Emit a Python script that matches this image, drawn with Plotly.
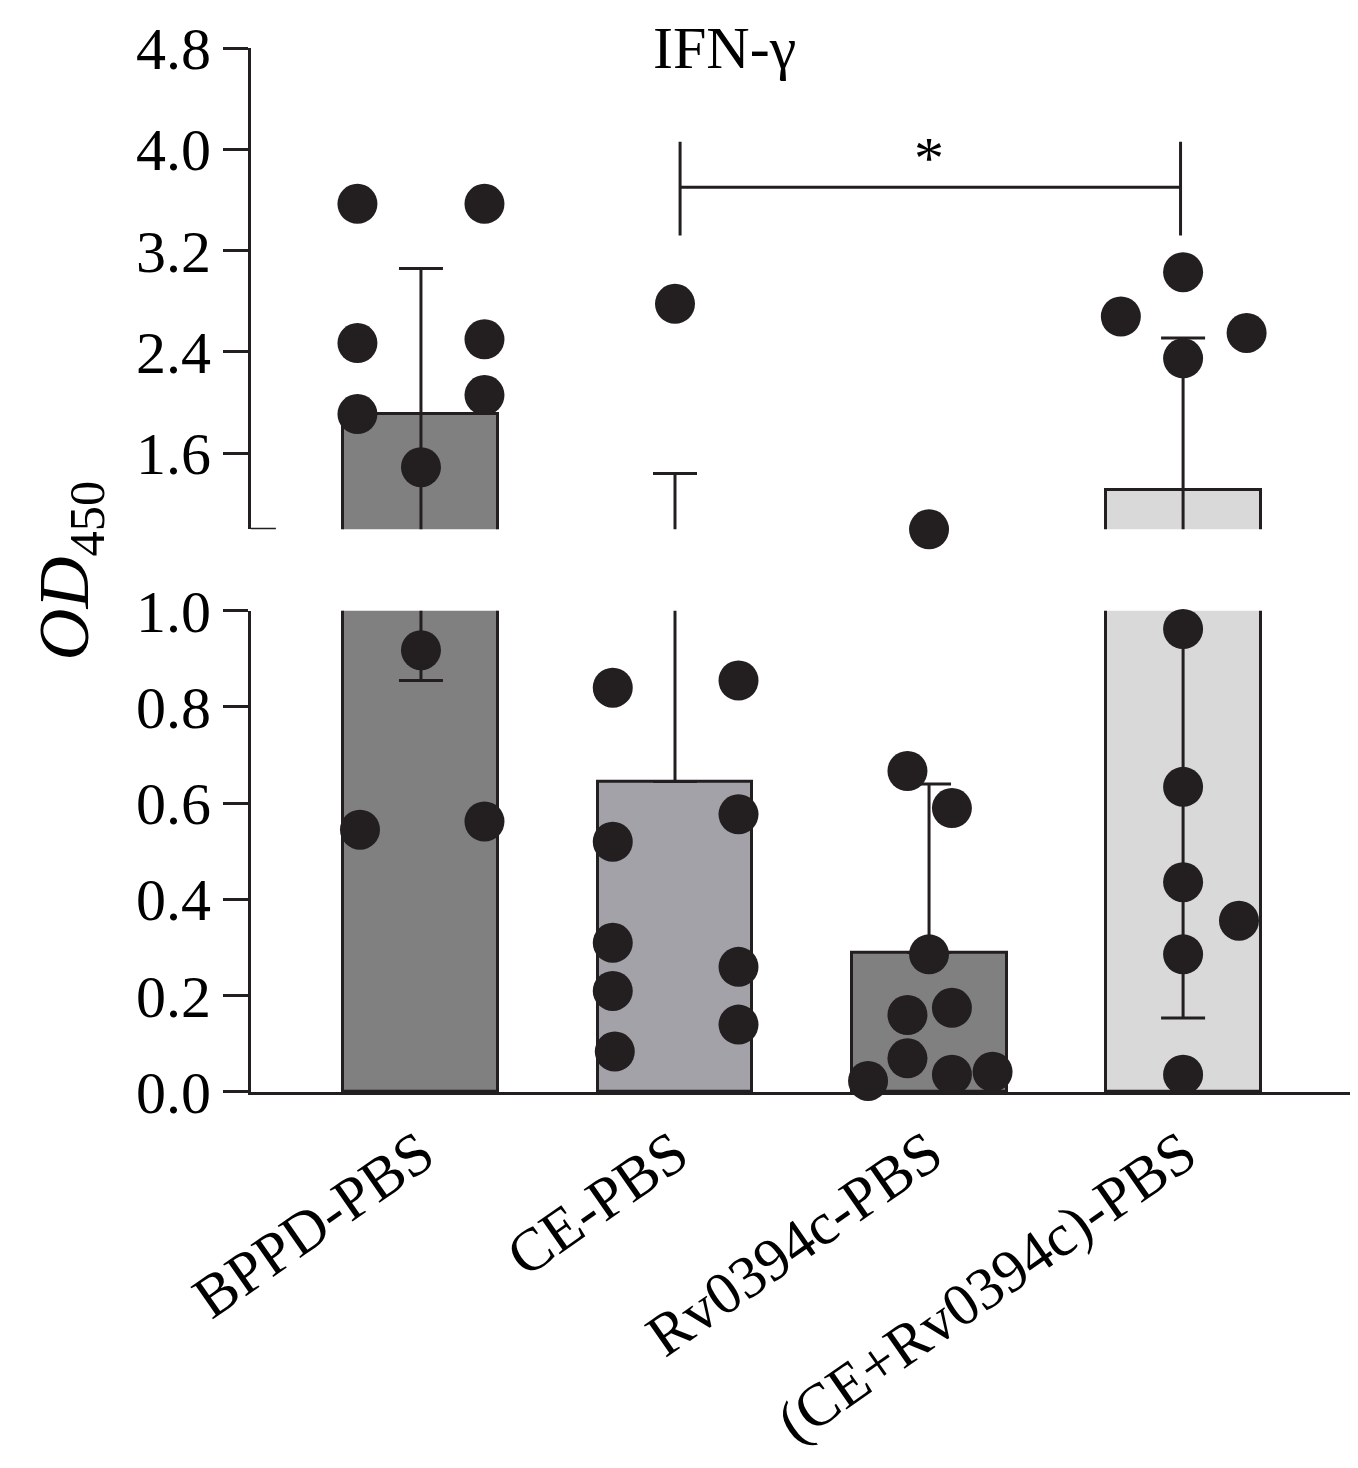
import plotly.graph_objects as go

groups = ["BPPD-PBS", "CE-PBS", "Rv0394c-PBS", "(CE+Rv0394c)-PBS"]
means = [1.91, 0.645, 0.29, 1.31]
err_up = [1.15, 0.795, 0.35, 1.2]
err_down = [1.055, 0.0, 0.0, 1.156]
bar_colors = ["#808080", "#a3a2a8", "#808080", "#d9d9d9"]

# individual points: group index, horizontal offset (in bar units), value
pt_group = [0]*10 + [1]*10 + [2]*10 + [3]*10
pt_offset = [-0.25, 0.25, -0.25, 0.25, 0.25, -0.25, 0, 0, -0.24, 0.25,
             0, -0.245, 0.25, 0.25, -0.245, -0.245, 0.25, -0.245, 0.25, -0.237,
             0, -0.085, 0.09, 0, -0.085, 0.09, -0.085, -0.24, 0.09, 0.25,
             0, -0.245, 0.25, 0, 0, 0, 0, 0.22, 0, 0]
pt_value = [3.57, 3.57, 2.47, 2.50, 2.06, 1.91, 1.49, 0.918, 0.545, 0.562,
            2.78, 0.84, 0.855, 0.577, 0.52, 0.31, 0.26, 0.21, 0.14, 0.084,
            1.0, 0.667, 0.59, 0.286, 0.16, 0.175, 0.07, 0.023, 0.036, 0.042,
            3.03, 2.68, 2.55, 2.35, 0.962, 0.634, 0.436, 0.356, 0.286, 0.036]

ink = "#231f20"
font = "Times New Roman, Liberation Serif, serif"
xs = list(range(len(groups)))
px = [g + o for g, o in zip(pt_group, pt_offset)]

fig = go.Figure()
for ya, keep in [("y", lambda v: v < 1.0), ("y2", lambda v: v >= 1.0)]:
    fig.add_trace(go.Bar(x=xs, y=means, width=0.61, marker=dict(color=bar_colors, line=dict(color=ink, width=3)),
                         yaxis=ya, showlegend=False))
    fig.add_trace(go.Scatter(x=xs, y=means, mode="markers", marker=dict(size=0.1, color=ink), yaxis=ya,
                             error_y=dict(type="data", array=err_up, arrayminus=err_down, color=ink,
                                          thickness=3, width=22), showlegend=False))
    sel = [i for i, v in enumerate(pt_value) if keep(v)]
    fig.add_trace(go.Scatter(x=[px[i] for i in sel], y=[pt_value[i] for i in sel], mode="markers",
                             marker=dict(size=40, color=ink), cliponaxis=False, yaxis=ya, showlegend=False))

tickfont = dict(family=font, size=60, color="black")
fig.update_layout(
    width=1358, height=1468, plot_bgcolor="white", paper_bgcolor="white",
    margin=dict(l=243, r=0, t=40, b=384), bargap=0,
    xaxis=dict(range=[-0.669, 3.72], tickvals=xs, ticktext=groups, tickangle=-35, tickfont=tickfont,
               showline=True, linecolor=ink, linewidth=3, ticks="", showgrid=False, zeroline=False),
    yaxis=dict(domain=[0, 0.461], range=[0, 1.0], tickvals=[0, 0.2, 0.4, 0.6, 0.8, 1.0],
               tickformat=".1f", tickfont=tickfont, ticks="outside", ticklen=25, tickwidth=3,
               tickcolor=ink, showline=True, linecolor=ink, linewidth=3, showgrid=False, zeroline=False),
    yaxis2=dict(domain=[0.539, 1], range=[1.0, 4.8], tickvals=[1.6, 2.4, 3.2, 4.0, 4.8],
                tickformat=".1f", tickfont=tickfont, ticks="outside", ticklen=25, tickwidth=3,
                tickcolor=ink, showline=True, linecolor=ink, linewidth=3, showgrid=False, zeroline=False,
                anchor="x"),
)
# bottom cap of the upper axis segment
fig.add_shape(type="line", xref="x", yref="y2", x0=-0.669, x1=-0.571, y0=1.0, y1=1.0,
              line=dict(color=ink, width=3))
# significance bracket
fig.add_shape(type="path", xref="x", yref="y2", path="M 1.02 3.32 L 1.02 4.06 M 1.02 3.70 L 2.99 3.70 M 2.99 3.32 L 2.99 4.06",
              line=dict(color=ink, width=3))
fig.add_annotation(x=2.0, y=3.93, xref="x", yref="y2", text="*", showarrow=False,
                   font=dict(family=font, size=60, color="black"))
fig.add_annotation(x=0.425, y=1.0, xref="paper", yref="paper", text="IFN-γ", showarrow=False,
                   yanchor="middle", font=dict(family=font, size=60, color="black"))
fig.add_annotation(x=-0.205, y=0.5, xref="paper", yref="paper", text="<i>OD</i><sub>450</sub>",
                   textangle=-90, showarrow=False, font=dict(family=font, size=72, color="black"))

fig.write_html("out.html")
